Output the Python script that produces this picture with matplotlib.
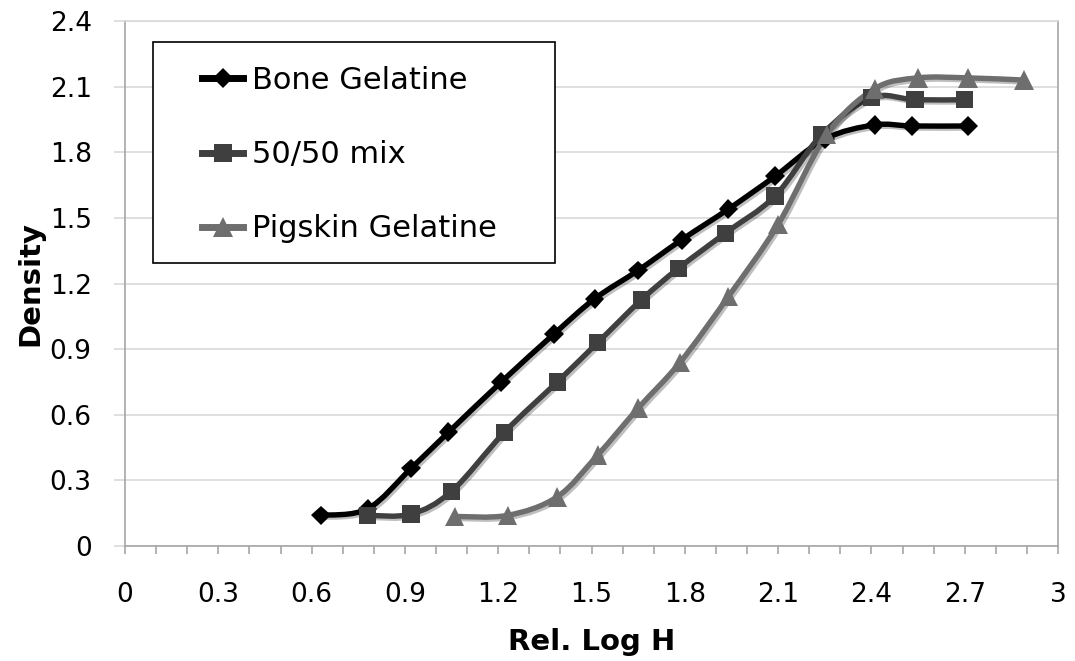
import numpy as np
import matplotlib
matplotlib.use("Agg")
import matplotlib.pyplot as plt
import matplotlib.patches as patches
import matplotlib.patheffects as pe
from matplotlib.path import Path
from matplotlib.lines import Line2D

# values
bone_x = [0.63, 0.78, 0.92, 1.04, 1.21, 1.38, 1.51, 1.65, 1.79, 1.94, 2.09, 2.25, 2.41, 2.53, 2.71]
bone_y = [0.14, 0.17, 0.355, 0.52, 0.75, 0.97, 1.13, 1.26, 1.40, 1.54, 1.69, 1.86, 1.925, 1.92, 1.92]

mix_x = [0.78, 0.92, 1.05, 1.22, 1.39, 1.52, 1.66, 1.78, 1.93, 2.09, 2.24, 2.40, 2.54, 2.70]
mix_y = [0.14, 0.146, 0.25, 0.52, 0.75, 0.93, 1.125, 1.27, 1.43, 1.60, 1.88, 2.05, 2.04, 2.04]

pig_x = [1.06, 1.23, 1.39, 1.52, 1.65, 1.785, 1.94, 2.10, 2.256, 2.41, 2.55, 2.71, 2.89]
pig_y = [0.135, 0.14, 0.225, 0.416, 0.63, 0.84, 1.14, 1.47, 1.88, 2.09, 2.14, 2.14, 2.13]

labels = ["Bone Gelatine", "50/50 mix", "Pigskin Gelatine"]
colors = ["#000000", "#3f3f3f", "#6e6e6e"]
markers = ["D", "s", "^"]
msizes = [10, 12.5, 14]

x_ticks = [0, 0.3, 0.6, 0.9, 1.2, 1.5, 1.8, 2.1, 2.4, 2.7, 3]
y_ticks = [0, 0.3, 0.6, 0.9, 1.2, 1.5, 1.8, 2.1, 2.4]


def smooth_path(xs, ys):
    # excel style smoothed line: cubic bezier through every point
    pts = np.column_stack([xs, ys])
    n = len(pts)
    verts = [pts[0]]
    codes = [Path.MOVETO]
    for i in range(n - 1):
        p0 = pts[max(i - 1, 0)]
        p1 = pts[i]
        p2 = pts[i + 1]
        p3 = pts[min(i + 2, n - 1)]
        c1 = p1 + (p2 - p0) / 6.0
        c2 = p2 - (p3 - p1) / 6.0
        verts += [c1, c2, p2]
        codes += [Path.CURVE4] * 3
    return Path(verts, codes)


plt.rcParams["font.family"] = "DejaVu Sans"
fig = plt.figure(figsize=(10.75, 6.61), dpi=100)
ax = fig.add_axes([125 / 1075, 1 - 546 / 661, 933 / 1075, 525 / 661])

shadow = [pe.SimpleLineShadow(offset=(1.5, -1.5), shadow_color="#000000", alpha=0.25), pe.Normal()]

series = [(bone_x, bone_y), (mix_x, mix_y), (pig_x, pig_y)]
handles = []
for (xs, ys), lab, c, m, ms in zip(series, labels, colors, markers, msizes):
    patch = patches.PathPatch(smooth_path(xs, ys), facecolor="none", edgecolor=c,
                              lw=3.9, capstyle="round", joinstyle="round", zorder=3)
    patch.set_path_effects(shadow)
    ax.add_patch(patch)
    ax.plot(xs, ys, linestyle="none", marker=m, markersize=ms, color=c,
            markeredgewidth=0, zorder=4, path_effects=shadow)
    handles.append(Line2D([], [], color=c, lw=5, marker=m, markersize=ms, markeredgewidth=0))

ax.set_xlim(0, 3)
ax.set_ylim(0, 2.4)
ax.set_xticks(x_ticks)
ax.set_xticklabels([f"{v:g}" for v in x_ticks])
ax.set_xticks(np.arange(0, 3.01, 0.1), minor=True)
ax.set_yticks(y_ticks)
ax.set_yticklabels([f"{v:g}" for v in y_ticks])

ax.grid(axis="y", color="#d9d9d9", lw=1.2)
ax.set_axisbelow(True)
for s in ax.spines.values():
    s.set_color("#a6a6a6")
    s.set_linewidth(1.2)
ax.spines["top"].set_color("#d9d9d9")

ax.tick_params(axis="x", which="both", direction="out", length=6, width=1.2,
               color="#a6a6a6", labelsize=19, pad=20)
ax.tick_params(axis="y", which="major", direction="out", length=8, width=1.2,
               color="#d9d9d9", labelsize=19, pad=16)

ax.set_xlabel("Rel. Log H", fontsize=21, fontweight="bold", labelpad=14)
ax.set_ylabel("Density", fontsize=21, fontweight="bold", labelpad=4)

# legend box
box = patches.Rectangle((153 / 1075, 1 - 263 / 661), 402 / 1075, 221 / 661,
                        transform=fig.transFigure, facecolor="white",
                        edgecolor="#000000", lw=1.2, zorder=5)
fig.patches.append(box)
leg = fig.legend(handles, labels, loc="upper left", bbox_to_anchor=(202 / 1075, 1 - 66 / 661),
                 frameon=False, borderpad=0, borderaxespad=0, fontsize=22,
                 handlelength=1.35, handletextpad=0.3, labelspacing=1.48)
leg.set_zorder(6)

fig.savefig("out.png", dpi=100)
